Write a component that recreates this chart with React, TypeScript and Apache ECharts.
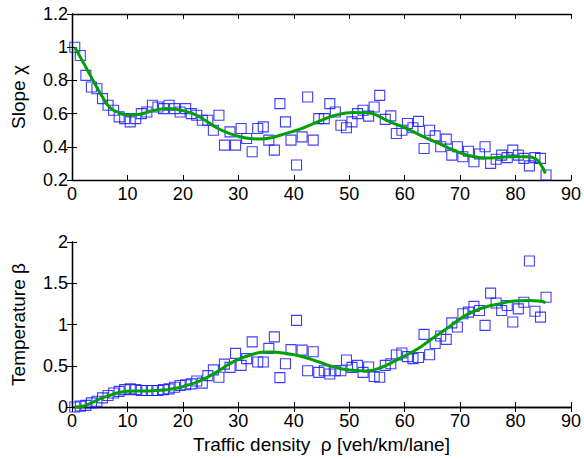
import React, { useEffect, useRef } from "react";
import * as echarts from "echarts";

const densityX: number[] = [
  0.5, 1.5, 2.5, 3.5, 4.5, 5.5, 6.5, 7.5, 8.5, 9.5, 10.5, 11.5, 12.5, 13.5, 14.5, 15.5, 16.5, 17.5, 18.5, 19.5,
  20.5, 21.5, 22.5, 23.5, 24.5, 25.5, 26.5, 27.5, 28.5, 29.5, 30.5, 31.5, 32.5, 33.5, 34.5, 35.5, 36.5, 37.5, 38.5, 39.5,
  40.5, 41.5, 42.5, 43.5, 44.5, 45.5, 46.5, 47.5, 48.5, 49.5, 50.5, 51.5, 52.5, 53.5, 54.5, 55.5, 56.5, 57.5, 58.5, 59.5,
  60.5, 61.5, 62.5, 63.5, 64.5, 65.5, 66.5, 67.5, 68.5, 69.5, 70.5, 71.5, 72.5, 73.5, 74.5, 75.5, 76.5, 77.5, 78.5, 79.5,
  80.5, 81.5, 82.5, 83.5, 84.5, 85.5,
];

const slopeValues: number[] = [
  1.0, 0.95, 0.83, 0.76, 0.75, 0.69, 0.65, 0.62, 0.58, 0.57, 0.55, 0.57, 0.6, 0.61, 0.65, 0.64, 0.63, 0.65, 0.63, 0.61,
  0.63, 0.6, 0.59, 0.56, 0.56, 0.5, 0.59, 0.41, 0.49, 0.41, 0.51, 0.45, 0.37, 0.51, 0.52, 0.44, 0.38, 0.66, 0.55, 0.44,
  0.29, 0.46, 0.7, 0.44, 0.57, 0.57, 0.66, 0.61, 0.53, 0.515, 0.55, 0.6, 0.62, 0.585, 0.64, 0.71, 0.565, 0.586, 0.48, 0.5,
  0.54, 0.515, 0.553, 0.39, 0.5, 0.466, 0.4, 0.446, 0.35, 0.4, 0.34, 0.373, 0.31, 0.357, 0.4, 0.3, 0.325, 0.35, 0.335, 0.38,
  0.35, 0.33, 0.285, 0.335, 0.33, 0.23,
];

const temperatureValues: number[] = [
  0.0, 0.01, 0.02, 0.05, 0.07, 0.11, 0.14, 0.17, 0.19, 0.21, 0.22, 0.21, 0.2, 0.2, 0.2, 0.2, 0.21, 0.22, 0.24, 0.26,
  0.27, 0.28, 0.315, 0.29, 0.38, 0.45, 0.36, 0.52, 0.48, 0.65, 0.505, 0.586, 0.79, 0.545, 0.545, 0.71, 0.85, 0.356, 0.525, 0.695,
  1.05, 0.69, 0.44, 0.67, 0.42, 0.44, 0.4, 0.44, 0.44, 0.57, 0.48, 0.505, 0.42, 0.485, 0.37, 0.36, 0.505, 0.525, 0.63, 0.655,
  0.61, 0.586, 0.6, 0.88, 0.634, 0.77, 0.86, 0.82, 1.02, 0.97, 1.13, 1.15, 1.22, 1.17, 0.99, 1.38, 1.26, 1.17, 1.23, 1.03,
  1.19, 1.27, 1.77, 1.16, 1.09, 1.33,
];

const slopeFitX: number[] = [0.5, 2, 3.8, 5.5, 6.8, 8.5, 10, 12, 14, 15.8, 17, 19, 21.8, 24, 26, 28, 30.2, 32, 33.8, 36, 38.6, 41, 44.6, 47.5, 50.6, 53, 55, 56.6, 58.5, 60.2, 62.5, 65, 67.5, 69.8, 71.5, 73.4, 75, 77, 79.5, 81.8, 83.6, 84.6, 85.4];
const slopeFitY: number[] = [1.0, 0.91, 0.8, 0.7, 0.638, 0.605, 0.592, 0.595, 0.612, 0.626, 0.63, 0.625, 0.6, 0.56, 0.517, 0.485, 0.461, 0.45, 0.447, 0.455, 0.481, 0.505, 0.555, 0.59, 0.607, 0.605, 0.59, 0.562, 0.535, 0.513, 0.475, 0.437, 0.4, 0.366, 0.348, 0.336, 0.333, 0.336, 0.34, 0.34, 0.327, 0.29, 0.24];

const tempFitX: number[] = [0.5, 2, 3.8, 5.5, 6.8, 8.5, 9.8, 11.5, 13.4, 15, 17, 19, 20.6, 23, 26, 29, 32.6, 35.6, 38.6, 41.6, 44.6, 47, 50, 53, 56, 59, 62, 65, 68, 71, 74, 77, 80, 82.4, 84.2, 85.4];
const tempFitY: number[] = [0.0, 0.01, 0.06, 0.11, 0.14, 0.175, 0.19, 0.195, 0.195, 0.2, 0.21, 0.23, 0.26, 0.315, 0.42, 0.545, 0.64, 0.667, 0.65, 0.61, 0.545, 0.49, 0.448, 0.436, 0.485, 0.586, 0.69, 0.83, 0.97, 1.11, 1.2, 1.25, 1.285, 1.29, 1.285, 1.265];

const xTicks = { min: 0, max: 90, interval: 10 };

export default function App() {
  const ref = useRef<HTMLDivElement>(null);
  useEffect(() => {
    document.body.style.margin = "0";
    if (!ref.current) return;
    const chart = echarts.init(ref.current, null, { renderer: "svg" });
    const font = "'Liberation Sans', Arial, Helvetica, sans-serif";
    const axisLine = { show: true, lineStyle: { color: "#000", width: 1.3 } };
    const tick = { show: true, inside: true, length: 5, lineStyle: { color: "#000", width: 1 } };
    const label = { color: "#000", fontSize: 18, fontFamily: font };
    const nameStyle = { color: "#000", fontSize: 19, fontFamily: font };
    const mkX = (gridIndex: number, name = "") => [
      {
        type: "value", gridIndex, ...xTicks, position: "bottom",
        axisLine, axisTick: tick, splitLine: { show: false },
        axisLabel: { ...label, show: true, margin: 5 },
        name, nameLocation: "middle", nameGap: 28, nameTextStyle: nameStyle,
      },
      {
        type: "value", gridIndex, ...xTicks, position: "top",
        axisLine, axisTick: tick, splitLine: { show: false }, axisLabel: { show: false },
      },
    ];
    const mkY = (gridIndex: number, min: number, max: number, interval: number, name: string) => [
      {
        type: "value", gridIndex, min, max, interval, position: "left",
        axisLine, axisTick: tick, splitLine: { show: false },
        axisLabel: { ...label, margin: 4 },
        name, nameLocation: "middle", nameGap: 44, nameTextStyle: nameStyle,
      },
      {
        type: "value", gridIndex, min, max, interval, position: "right",
        axisLine, axisTick: tick, splitLine: { show: false }, axisLabel: { show: false },
      },
    ];
    const xs = [...mkX(0), ...mkX(1, "Traffic density  ρ [veh/km/lane]")];
    const ys = [...mkY(0, 0.2, 1.2, 0.2, "Slope χ"), ...mkY(1, 0, 2, 0.5, "Temperature β")];
    const sq = {
      type: "scatter", symbol: "rect", symbolSize: 10,
      itemStyle: { color: "rgba(0,0,0,0)", borderColor: "#0f0fff", borderWidth: 1.1 },
    };
    const fit = {
      type: "line", smooth: true, showSymbol: false, symbol: "none",
      lineStyle: { color: "#00a000", width: 3 },
    };
    chart.setOption({
      animation: false,
      backgroundColor: "#fff",
      grid: [
        { left: 72, top: 14, width: 500, height: 166 },
        { left: 72, top: 242, width: 500, height: 165 },
      ],
      xAxis: xs,
      yAxis: ys,
      series: [
        { ...sq, xAxisIndex: 0, yAxisIndex: 0, data: densityX.map((x, i) => [x, slopeValues[i]]) },
        { ...fit, xAxisIndex: 0, yAxisIndex: 0, data: slopeFitX.map((x, i) => [x, slopeFitY[i]]) },
        { ...sq, xAxisIndex: 2, yAxisIndex: 2, data: densityX.map((x, i) => [x, temperatureValues[i]]) },
        { ...fit, xAxisIndex: 2, yAxisIndex: 2, data: tempFitX.map((x, i) => [x, tempFitY[i]]) },
      ],
    });
    return () => chart.dispose();
  }, []);
  return <div ref={ref} style={{ width: 584, height: 459 }} />;
}
